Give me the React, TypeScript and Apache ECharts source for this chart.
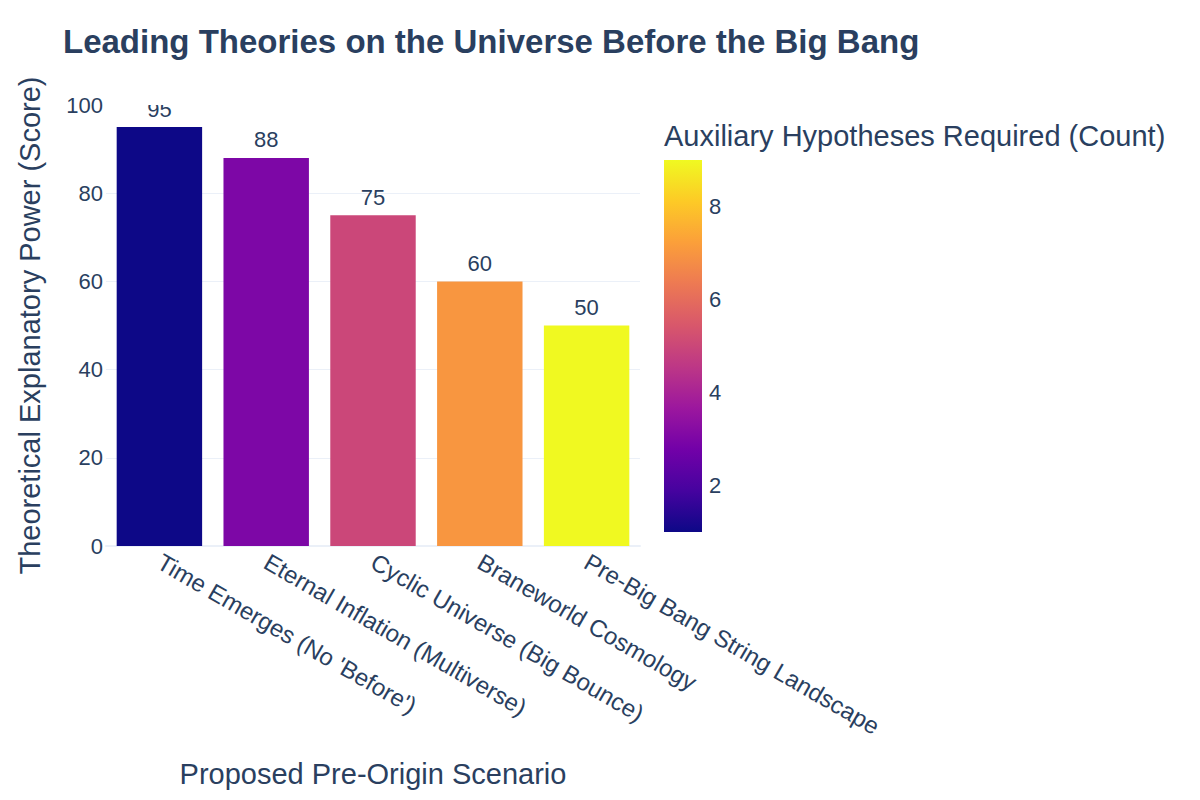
import React, { useEffect, useRef } from "react";
import * as echarts from "echarts";

// Candidate pre-origin scenarios and their scores
const scenarios = [
  "Time Emerges (No 'Before')",
  "Eternal Inflation (Multiverse)",
  "Cyclic Universe (Big Bounce)",
  "Braneworld Cosmology",
  "Pre-Big Bang String Landscape",
];
const explanatoryPower = [95, 88, 75, 60, 50];
const auxiliaryHypotheses = [1, 3, 5, 7, 9];

// Colour bar range and ticks
const countMin = 1;
const countMax = 9;
const countTicks = [2, 4, 6, 8];

// Plasma colour scale, low to high
const plasma = [
  "#0d0887", "#46039f", "#7201a8", "#9c179e", "#bd3786",
  "#d8576b", "#ed7953", "#fb9f3a", "#fdca26", "#f0f921",
];

const INK = "#2a3f5f";
const GRID = "#ebf0f8";
const FONT = "'Liberation Sans', Arial, Helvetica, sans-serif";

const PLOT = { left: 106, top: 105, width: 534, height: 441 };
const BAR = { left: 664, top: 160, width: 38, height: 372 };

export default function App() {
  const ref = useRef<HTMLDivElement>(null);

  useEffect(() => {
    if (!ref.current) return;
    const chart = echarts.init(ref.current, undefined, { renderer: "svg" });

    const data = scenarios.map((name, i) => ({
      value: [name, explanatoryPower[i], auxiliaryHypotheses[i]],
    }));

    const gradientStops = plasma
      .slice()
      .reverse()
      .map((c, i) => ({ offset: i / (plasma.length - 1), color: c }));

    chart.setOption({
      animation: false,
      backgroundColor: "#ffffff",
      textStyle: { fontFamily: FONT, color: INK },
      title: [
        {
          text: "Leading Theories on the Universe Before the Big Bang",
          left: 63,
          top: 25,
          padding: 0,
          textStyle: { fontFamily: FONT, fontWeight: "bold", fontSize: 33, color: INK },
        },
        {
          text: "Auxiliary Hypotheses Required (Count)",
          left: 664,
          top: 121,
          padding: 0,
          textStyle: { fontFamily: FONT, fontWeight: "normal", fontSize: 29, color: INK },
        },
      ],
      grid: [
        { ...PLOT, containLabel: false },
        { ...BAR, containLabel: false },
      ],
      xAxis: [
        {
          gridIndex: 0,
          type: "category",
          data: scenarios,
          name: "Proposed Pre-Origin Scenario",
          nameLocation: "middle",
          nameGap: 213,
          nameTextStyle: { fontFamily: FONT, fontSize: 29, color: INK },
          axisLine: { show: true, lineStyle: { color: GRID, width: 2 } },
          axisTick: { show: false },
          axisLabel: {
            rotate: -30,
            fontFamily: FONT,
            fontSize: 24,
            color: INK,
            margin: 14,
            interval: 0,
          },
        },
        { gridIndex: 1, type: "value", show: false, min: 0, max: 1 },
      ],
      yAxis: [
        {
          gridIndex: 0,
          type: "value",
          min: 0,
          max: 100,
          interval: 20,
          name: "Theoretical Explanatory Power (Score)",
          nameLocation: "middle",
          nameGap: 62,
          nameTextStyle: { fontFamily: FONT, fontSize: 29, color: INK },
          axisLine: { show: false },
          axisTick: { show: false },
          axisLabel: { fontFamily: FONT, fontSize: 22, color: INK, margin: 3 },
          splitLine: { show: true, showMaxLine: false, lineStyle: { color: GRID, width: 1 } },
        },
        {
          gridIndex: 1,
          type: "value",
          position: "right",
          min: countMin,
          max: countMax,
          axisLine: { show: false },
          axisTick: { show: false },
          splitLine: { show: false },
          axisLabel: {
            customValues: countTicks,
            fontFamily: FONT,
            fontSize: 22,
            color: INK,
            margin: 7,
          },
        },
      ],
      visualMap: {
        show: false,
        type: "continuous",
        dimension: 2,
        seriesIndex: 0,
        min: countMin,
        max: countMax,
        inRange: { color: plasma },
      },
      series: [
        {
          type: "bar",
          xAxisIndex: 0,
          yAxisIndex: 0,
          data,
          encode: { x: 0, y: 1 },
          barCategoryGap: "20%",
          label: {
            show: true,
            position: "top",
            distance: 7,
            fontFamily: FONT,
            fontSize: 22,
            color: INK,
            formatter: (p: any) => String(p.value[1]),
          },
        },
      ],
      graphic: [
        // colour bar swatch
        {
          type: "rect",
          left: BAR.left,
          top: BAR.top,
          shape: { width: BAR.width, height: BAR.height },
          style: { fill: new echarts.graphic.LinearGradient(0, 0, 0, 1, gradientStops) },
          z: 5,
        },
        // clip value labels at the top edge of the plot area
        {
          type: "rect",
          left: PLOT.left,
          top: PLOT.top - 24,
          shape: { width: PLOT.width, height: 24 },
          style: { fill: "#ffffff" },
          z: 100,
        },
      ],
    });

    return () => chart.dispose();
  }, []);

  return <div ref={ref} style={{ width: 1200, height: 800, margin: -8 }} />;
}
